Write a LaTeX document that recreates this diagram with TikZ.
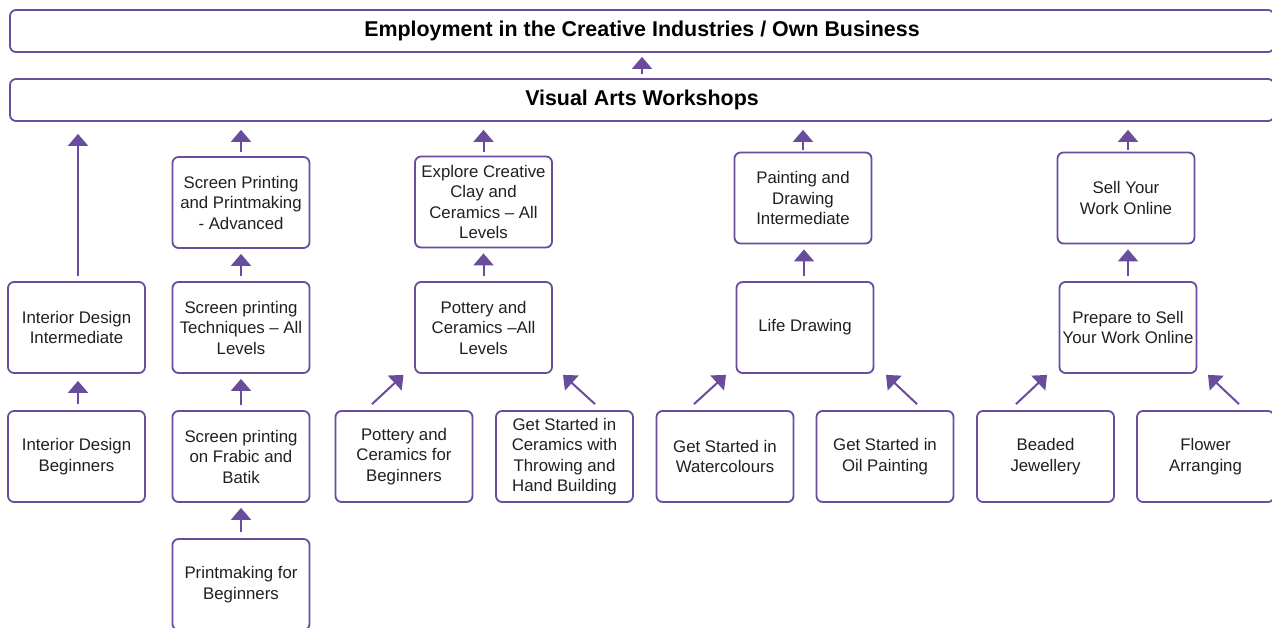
\documentclass[tikz,border=0pt]{standalone}
\usepackage{fontspec}
\setmainfont{Liberation Sans}
\usetikzlibrary{arrows.meta}
\definecolor{vpurple}{HTML}{6A4C9C}
\definecolor{vtext}{HTML}{231F20}
\begin{document}
\begin{tikzpicture}[x=1pt,y=-1pt,
  box/.style={draw=vpurple, line width=1.8pt, rounded corners=6pt, fill=white,
    minimum width=137pt, minimum height=91pt, inner sep=0pt, align=center,
    text=vtext, font=\fontsize{16.8}{20.5}\selectfont},
  wide/.style={draw=vpurple, line width=1.8pt, rounded corners=6pt, fill=white,
    minimum width=1264pt, minimum height=42pt, inner sep=0pt, align=center,
    text=black, font=\fontsize{21.4}{25}\selectfont\bfseries},
  arr/.style={draw=vpurple, line width=2pt, -{Triangle[width=20pt,length=12pt]}}]
\useasboundingbox (0,0) rectangle (1272,628);
\fill[white] (0,0) rectangle (1272,628);

\node[wide] (emp) at (642,31) {Employment in the Creative Industries / Own Business};
\node[wide] (vis) at (642,100) {Visual Arts Workshops};

\node[box] (idi) at (76.5,327.5) {Interior Design\\Intermediate};
\node[box] (idb) at (76.5,456.5) {Interior Design\\Beginners};

\node[box] (spa) at (241,202.5) {Screen Printing\\and Printmaking\\- Advanced};
\node[box] (spt) at (241,327.5) {Screen printing\\Techniques -- All\\Levels};
\node[box] (spf) at (241,456.5) {Screen printing\\on Frabic and\\Batik};
\node[box] (pmb) at (241,584.5) {Printmaking for\\Beginners};

\node[box] (ecc) at (483.5,202) {Explore Creative\\Clay and\\Ceramics -- All\\Levels};
\node[box] (pca) at (483.5,327.5) {Pottery and\\Ceramics --All\\Levels};
\node[box] (pcb) at (404,456.5) {Pottery and\\Ceramics for\\Beginners};
\node[box] (gsc) at (564.5,456.5) {Get Started in\\Ceramics with\\Throwing and\\Hand Building};

\node[box] (pdi) at (803,198) {Painting and\\Drawing\\Intermediate};
\node[box] (lfd) at (805,327.5) {Life Drawing};
\node[box] (gsw) at (725,456.5) {Get Started in\\Watercolours};
\node[box] (gso) at (885,456.5) {Get Started in\\Oil Painting};

\node[box] (syw) at (1126,198) {Sell Your\\Work Online};
\node[box] (psw) at (1128,327.5) {Prepare to Sell\\Your Work Online};
\node[box] (bej) at (1045.5,456.5) {Beaded\\Jewellery};
\node[box] (fla) at (1205.5,456.5) {Flower\\Arranging};

% top arrow
\draw[arr, shorten <=4pt, shorten >=4pt] (vis.north) -- (emp.south);

% to Visual Arts
\draw[arr, shorten <=5pt, shorten >=12pt] ([xshift=1.5pt]idi.north) -- ([xshift=1.5pt]idi.north |- vis.south);
\draw[arr, shorten <=4pt, shorten >=8pt] (spa.north) -- (spa.north |- vis.south);
\draw[arr, shorten <=4pt, shorten >=8pt] (ecc.north) -- (ecc.north |- vis.south);
\draw[arr, shorten <=2pt, shorten >=8pt] (pdi.north) -- (pdi.north |- vis.south);
\draw[arr, shorten <=2pt, shorten >=8pt] ([xshift=2pt]syw.north) -- ([xshift=2pt]syw.north |- vis.south);

% vertical chains
\draw[arr, shorten <=6pt, shorten >=7pt] ([xshift=1.5pt]idb.north) -- ([xshift=1.5pt]idi.south);
\draw[arr, shorten <=5pt, shorten >=5pt] (spt.north) -- (spa.south);
\draw[arr, shorten <=5pt, shorten >=5pt] (spf.north) -- (spt.south);
\draw[arr, shorten <=6pt, shorten >=5pt] (pmb.north) -- (spf.south);
\draw[arr, shorten <=5pt, shorten >=5pt] (pca.north) -- (ecc.south);
\draw[arr, shorten <=5pt, shorten >=5pt] ([xshift=-1pt]lfd.north) -- ([xshift=-1pt]lfd.north |- pdi.south);
\draw[arr, shorten <=5pt, shorten >=5pt] (psw.north) -- (psw.north |- syw.south);

% diagonal arrows
\draw[arr] ([xshift=-32pt,yshift=6pt]pcb.north) -- ([xshift=-80pt,yshift=-1pt]pca.south);
\draw[arr] ([xshift=30.5pt,yshift=6pt]gsc.north) -- ([xshift=79.5pt,yshift=-1pt]pca.south);
\draw[arr] ([xshift=-31pt,yshift=6pt]gsw.north) -- ([xshift=-79pt,yshift=-1pt]lfd.south);
\draw[arr] ([xshift=32pt,yshift=6pt]gso.north) -- ([xshift=81pt,yshift=-1pt]lfd.south);
\draw[arr] ([xshift=-29.5pt,yshift=6pt]bej.north) -- ([xshift=-81pt,yshift=-1pt]psw.south);
\draw[arr] ([xshift=33.5pt,yshift=6pt]fla.north) -- ([xshift=80pt,yshift=-1pt]psw.south);
\end{tikzpicture}
\end{document}
